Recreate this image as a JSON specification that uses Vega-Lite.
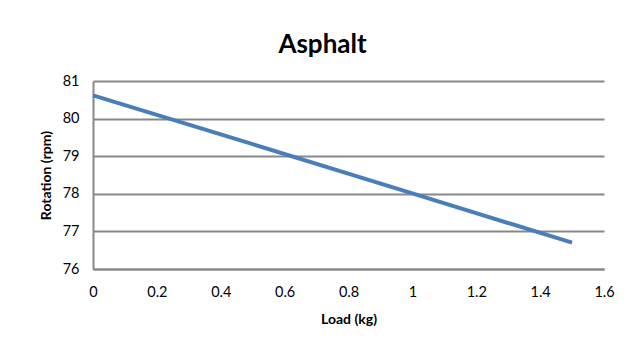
{
  "$schema": "https://vega.github.io/schema/vega-lite/v6.json",
  "width": 511,
  "height": 188,
  "autosize": {"type": "none"},
  "padding": {"left": 93, "top": 81, "right": 33, "bottom": 75},
  "background": "white",
  "title": {
    "text": "Asphalt",
    "font": "Lato",
    "fontSize": 26,
    "fontWeight": "bold",
    "color": "#000000",
    "anchor": "middle",
    "frame": "group",
    "dx": -26,
    "offset": 15
  },
  "data": {
    "values": [
      {"load": 0, "rotation": 80.62},
      {"load": 0.5, "rotation": 79.32},
      {"load": 1, "rotation": 78.01},
      {"load": 1.5, "rotation": 76.7}
    ]
  },
  "mark": {"type": "line", "color": "#4a7ebb", "strokeWidth": 4},
  "encoding": {
    "x": {
      "field": "load",
      "type": "quantitative",
      "scale": {"domain": [0, 1.6], "nice": false, "zero": false},
      "axis": {
        "title": "Load (kg)",
        "values": [0, 0.2, 0.4, 0.6, 0.8, 1, 1.2, 1.4, 1.6],
        "format": "~g",
        "grid": false,
        "ticks": false,
        "labelPadding": 16,
        "titlePadding": 14,
        "labelFlush": false
      }
    },
    "y": {
      "field": "rotation",
      "type": "quantitative",
      "scale": {"domain": [76, 81], "nice": false, "zero": false},
      "axis": {
        "title": "Rotation (rpm)",
        "values": [76, 77, 78, 79, 80, 81],
        "grid": true,
        "ticks": false,
        "labelPadding": 14,
        "titlePadding": 9,
        "labelFlush": false
      }
    }
  },
  "config": {
    "view": {"stroke": null},
    "axis": {
      "domainColor": "#888888",
      "domainWidth": 2,
      "gridColor": "#888888",
      "gridWidth": 2,
      "gridOpacity": 1,
      "labelFont": "Lato",
      "labelFontSize": 14.5,
      "labelColor": "#000000",
      "titleFont": "Lato",
      "titleFontSize": 14,
      "titleFontWeight": "bold",
      "titleColor": "#000000"
    }
  }
}
